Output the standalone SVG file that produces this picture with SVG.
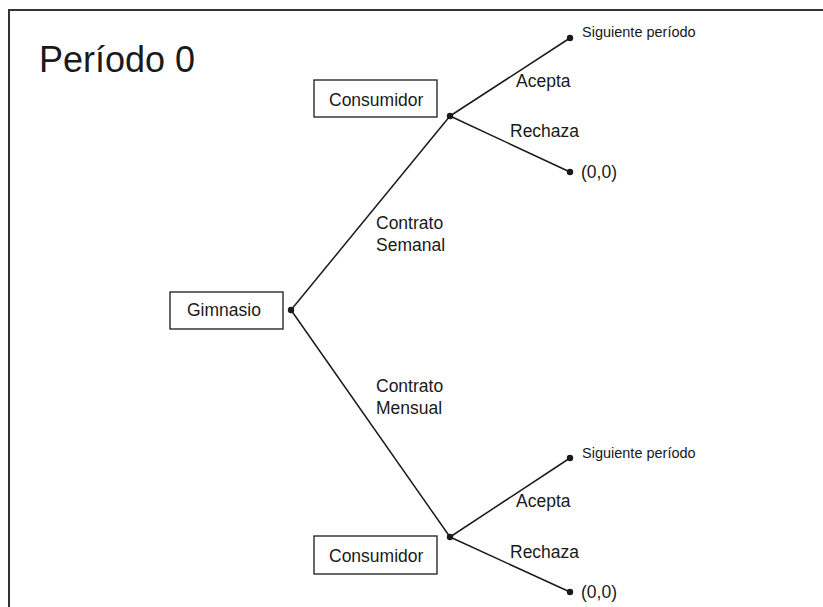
<svg xmlns="http://www.w3.org/2000/svg" width="823" height="607" viewBox="0 0 823 607">
  <style>
    text { font-family: "Liberation Sans", Arial, sans-serif; fill: #1a1a1a; }
    .lbl { font-size: 17.5px; }
    .small { font-size: 14.5px; }
    .title { font-size: 36px; }
    .box { fill: #fff; stroke: #1a1a1a; stroke-width: 1.3; }
    .edge { stroke: #1a1a1a; stroke-width: 1.5; fill: none; }
    .dot { fill: #1a1a1a; }
  </style>

  <rect width="823" height="607" fill="#fff"/>
  <!-- open frame: left and top edges -->
  <path d="M9,607 V10 H823" fill="none" stroke="#333" stroke-width="2"/>

  <text class="title" x="39" y="72">Período 0</text>

  <!-- connectors -->
  <g id="edges">
    <line class="edge" x1="291" y1="310" x2="450" y2="116"/>
    <line class="edge" x1="291" y1="310" x2="450" y2="537"/>
    <line class="edge" x1="450" y1="116" x2="570" y2="38"/>
    <line class="edge" x1="450" y1="116" x2="570" y2="172"/>
    <line class="edge" x1="450" y1="537" x2="570" y2="458"/>
    <line class="edge" x1="450" y1="537" x2="570" y2="592"/>
    <text class="lbl" x="376" y="229">Contrato</text>
    <text class="lbl" x="376" y="251">Semanal</text>
    <text class="lbl" x="376" y="392">Contrato</text>
    <text class="lbl" x="376" y="414">Mensual</text>
    <text class="lbl" x="516" y="87">Acepta</text>
    <text class="lbl" x="510" y="137">Rechaza</text>
    <text class="lbl" x="516" y="507">Acepta</text>
    <text class="lbl" x="510" y="558">Rechaza</text>
  </g>

  <g id="gimnasio">
    <rect class="box" x="170" y="292" width="113" height="37"/>
    <text class="lbl" x="187" y="316">Gimnasio</text>
    <circle class="dot" cx="291" cy="310" r="3.2"/>
  </g>

  <g id="consumidor-semanal">
    <rect class="box" x="314" y="80" width="123" height="37"/>
    <text class="lbl" x="329" y="106">Consumidor</text>
    <circle class="dot" cx="450" cy="116" r="3.2"/>
  </g>

  <g id="consumidor-mensual">
    <rect class="box" x="314" y="536" width="123" height="38"/>
    <text class="lbl" x="329" y="562">Consumidor</text>
    <circle class="dot" cx="450" cy="537" r="3.2"/>
  </g>

  <g id="semanal-acepta">
    <circle class="dot" cx="570" cy="38" r="3.2"/>
    <text class="small" x="582" y="37">Siguiente período</text>
  </g>
  <g id="semanal-rechaza">
    <circle class="dot" cx="570" cy="172" r="3.2"/>
    <text class="lbl" x="581" y="178">(0,0)</text>
  </g>
  <g id="mensual-acepta">
    <circle class="dot" cx="570" cy="458" r="3.2"/>
    <text class="small" x="582" y="458">Siguiente período</text>
  </g>
  <g id="mensual-rechaza">
    <circle class="dot" cx="570" cy="592" r="3.2"/>
    <text class="lbl" x="581" y="598">(0,0)</text>
  </g>
</svg>
